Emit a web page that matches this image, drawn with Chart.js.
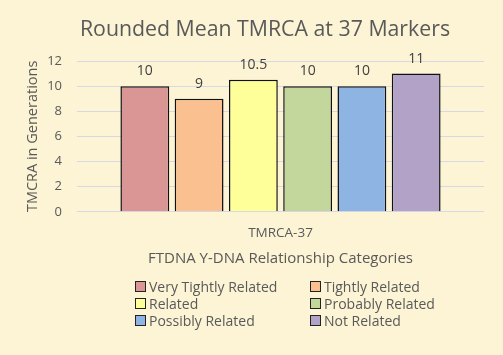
<!DOCTYPE html>
<html><head><meta charset="utf-8">
<script src="https://cdn.jsdelivr.net/npm/chart.js@4"></script>
<style>
html,body{margin:0;padding:0;background:#FCF4D4;}
#wrap{position:relative;width:503px;height:355px;background:#FCF4D4;}
#c{position:absolute;left:0;top:0;}
#title{position:absolute;left:0;top:13px;width:530px;text-align:center;font-family:"Open Sans",sans-serif;font-size:21.3px;color:#595959;white-space:nowrap;}
#legend{position:absolute;left:135px;top:278px;width:340px;font-family:"Open Sans",sans-serif;font-size:14px;color:#595959;display:grid;grid-template-columns:175px 165px;row-gap:0px;}
#legend div{display:flex;align-items:center;height:17px;white-space:nowrap;}
#legend span.box{display:inline-block;width:9px;height:9px;border:1px solid #222;margin-right:3px;}
</style></head>
<body><div id="wrap"><canvas id="c" width="503" height="355"></canvas><div id="title"></div><div id="legend"></div></div>
<script>
const categories = ["TMRCA-37"];
const seriesNames = ["Very Tightly Related","Tightly Related","Related","Probably Related","Possibly Related","Not Related"];
const seriesValues = [10, 9, 10.5, 10, 10, 11];
const seriesColors = ["#D99694","#FAC090","#FFFF99","#C3D69B","#8EB4E3","#B3A2C7"];
const yTicks = [0,2,4,6,8,10,12];
const chartTitle = "Rounded Mean TMRCA at 37 Markers";
const yTitle = "TMCRA in Generations";
const xTitle = "FTDNA Y-DNA Relationship Categories";

document.getElementById("title").textContent = chartTitle;

const datasets = seriesNames.map((n,i)=>({label:n,data:[seriesValues[i]],backgroundColor:seriesColors[i],borderColor:"#111",borderWidth:1.5,borderSkipped:"bottom"}));

const labelPlugin = {id:"vals",afterDatasetsDraw(chart){
  const ctx=chart.ctx; ctx.save();
  ctx.font="14px 'Open Sans', sans-serif"; ctx.fillStyle="#404040"; ctx.textAlign="center"; ctx.textBaseline="bottom";
  chart.data.datasets.forEach((ds,i)=>{chart.getDatasetMeta(i).data.forEach((bar,j)=>{ctx.fillText(String(ds.data[j]),bar.x,bar.y-8);});});
  ctx.restore();}};

new Chart(document.getElementById("c"),{type:"bar",data:{labels:categories,datasets},
 options:{responsive:false,animation:false,devicePixelRatio:1,
  layout:{padding:{left:24,right:19,top:61,bottom:83}},
  plugins:{legend:{display:false},tooltip:{enabled:false},title:{display:false}},
  scales:{
   x:{grid:{display:false},border:{display:false},ticks:{color:"#595959",padding:5,font:{family:"'Open Sans', sans-serif",size:13.5}},
      title:{display:true,text:xTitle,color:"#595959",font:{family:"'Open Sans', sans-serif",size:15},padding:{top:4}}},
   y:{min:0,max:12,afterBuildTicks(s){s.ticks=yTicks.map(v=>({value:v}));},
      afterFit(s){s.width=53;},
      grid:{color:"#D6D8E2",lineWidth:1,drawTicks:false},border:{display:false},
      ticks:{color:"#595959",padding:15,font:{family:"'Open Sans', sans-serif",size:13}},
      title:{display:true,text:yTitle,color:"#595959",font:{family:"'Open Sans', sans-serif",size:14.5},padding:{top:0,bottom:0}}}
  }},plugins:[labelPlugin]});

const lg=document.getElementById("legend");
seriesNames.forEach((n,i)=>{const d=document.createElement("div");const b=document.createElement("span");b.className="box";b.style.background=seriesColors[i];d.appendChild(b);d.appendChild(document.createTextNode(n));lg.appendChild(d);});
</script></body></html>
